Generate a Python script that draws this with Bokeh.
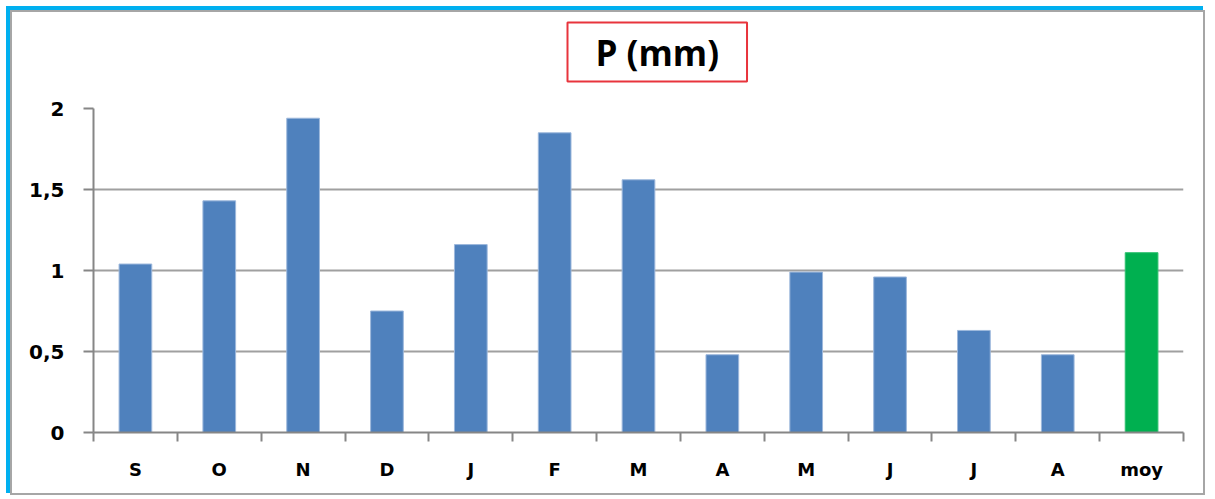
from bokeh.plotting import figure
from bokeh.models import FixedTicker, Title, ColumnDataSource
from bokeh.embed import file_html
from bokeh.resources import INLINE

# Data
categories = ["S", "O", "N", "D", "J", "F", "M", "A", "M", "J", "J", "A", "moy"]
precip = [1.04, 1.43, 1.94, 0.75, 1.16, 1.85, 1.56, 0.48, 0.99, 0.96, 0.63, 0.48, 1.11]
bar_colors = ["#4f81bd"] * 12 + ["#00b050"]
edge_colors = ["#9db8dc"] * 12 + ["#2fc070"]
y_ticks = [0, 0.5, 1, 1.5, 2]
y_tick_labels = ["0", "0,5", "1", "1,5", "2"]
title_text = "P (mm)"

n = len(categories)
xs = [i + 0.5 for i in range(n)]
src = ColumnDataSource(dict(x=xs, top=precip, color=bar_colors, edge=edge_colors))

# canvas placed at (12,12) inside a 2px grey border, with a cyan shadow
CX, CY = 12, 12
W, H = 1195, 485
FL, FR, FT, FB = 93, 1183, 108, 432  # frame in page pixels
p = figure(width=W, height=H, x_range=(0, n), y_range=(0, 2), title=None,
           output_backend="svg", toolbar_location=None,
           min_border_left=FL - CX, min_border_right=CX + W - FR,
           min_border_top=FT - CY, min_border_bottom=CY + H - FB)
p.styles = {"margin-left": "10px", "margin-top": "10px",
            "border": "2px solid #a6a6a6",
            "box-shadow": "-3px -3px 0px 1px #00b0f0"}
p.background_fill_color = "white"
p.border_fill_color = "white"
p.outline_line_color = None

p.vbar(x="x", top="top", bottom=0, width=0.39, fill_color="color", line_color="edge",
       line_width=1, source=src)

# x axis
xa = p.xaxis[0]
xa.ticker = FixedTicker(ticks=xs, minor_ticks=list(range(n + 1)))
xa.major_label_overrides = {x: c for x, c in zip(xs, categories)}
xa.major_tick_out = 0
xa.major_tick_in = 0
xa.minor_tick_out = 9
xa.minor_tick_in = 0
xa.minor_tick_line_color = "#868686"
xa.minor_tick_line_width = 2
xa.axis_line_color = "#868686"
xa.axis_line_width = 2
xa.major_label_text_font = "DejaVu Sans"
xa.major_label_text_font_style = "bold"
xa.major_label_text_font_size = "18px"
xa.major_label_text_color = "black"
xa.major_label_standoff = 17

# y axis
ya = p.yaxis[0]
ya.ticker = FixedTicker(ticks=y_ticks)
ya.major_label_overrides = {t: l for t, l in zip(y_ticks, y_tick_labels)}
ya.major_tick_out = 10
ya.major_tick_in = 0
ya.minor_tick_out = 0
ya.minor_tick_in = 0
ya.major_tick_line_color = "#868686"
ya.major_tick_line_width = 2
ya.axis_line_color = "#868686"
ya.axis_line_width = 2
ya.major_label_text_font = "DejaVu Sans"
ya.major_label_text_font_style = "bold"
ya.major_label_text_font_size = "20px"
ya.major_label_text_color = "black"
ya.major_label_standoff = 19

p.xgrid.grid_line_color = None
p.ygrid.ticker = FixedTicker(ticks=y_ticks)
p.ygrid.grid_line_color = "#a0a0a0"
p.ygrid.grid_line_width = 2

# spacer between the frame and the title box
p.add_layout(Title(text=" ", text_font_size="1px", standoff=24), "above")
# title box above the frame
p.add_layout(Title(text=title_text, align="left", offset=567 - FL, standoff=0,
                   text_font="Open Sans", text_font_style="bold", text_font_size="35px",
                   text_color="black",
                   border_line_color="#e8343c", border_line_width=2,
                   background_fill_color="white", padding=[28, 6]), "above")

open("out.html", "w").write(file_html(p, INLINE))
